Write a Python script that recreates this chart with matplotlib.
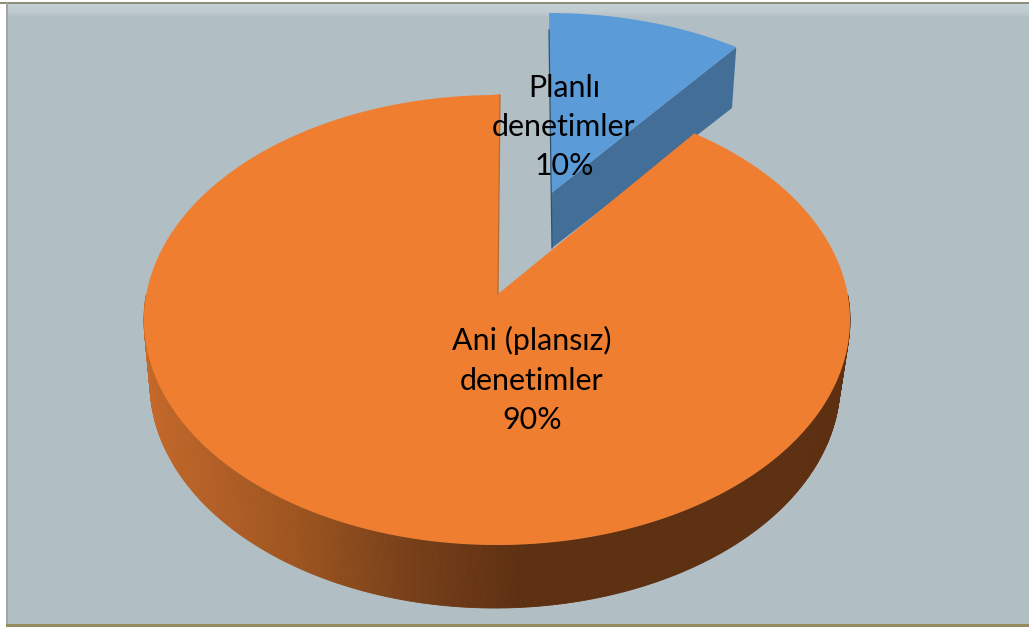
import matplotlib
matplotlib.use("Agg")
import matplotlib.pyplot as plt
from matplotlib.collections import PolyCollection
from matplotlib.colors import LinearSegmentedColormap
import numpy as np

labels = ["Planlı\ndenetimler", "Ani (plansız)\ndenetimler"]
values = [10, 90]

W, H = 1029, 627
plt.rcParams['font.family'] = ['Lato', 'DejaVu Sans']

fig = plt.figure(figsize=(W / 100, H / 100), dpi=100, facecolor='white')
ax = fig.add_axes([0, 0, 1, 1])
ax.set_xlim(0, W)
ax.set_ylim(H, 0)
ax.axis('off')


def rim(theta, cx, cy, rx, ry):
    # theta clockwise from 12 o'clock, squeezed a bit for the perspective
    phi = np.arctan2(0.928 * np.sin(theta), np.cos(theta))
    return cx + rx * np.sin(phi), cy - ry * np.cos(phi)


# background panel with the lighter band at the top
ax.add_patch(plt.Rectangle((8, 3), W - 8, 621, color='#B1BEC3', lw=0, zorder=0))
band = LinearSegmentedColormap.from_list('band', ['#C3D0D4', '#C0CCD1', '#B1BEC3'])
ax.imshow(np.linspace(0, 1, 32).reshape(-1, 1), cmap=band, aspect='auto',
          extent=(8, W, 18, 4), zorder=1)
ax.set_xlim(0, W)
ax.set_ylim(H, 0)
ax.add_patch(plt.Rectangle((0, 2), W, 2, color='#8E8E7C', lw=0, zorder=2))
ax.add_patch(plt.Rectangle((6, 3), 2, 621, color='#A3A6A8', lw=0, zorder=2))
ax.add_patch(plt.Rectangle((6, 624), W - 6, 3, color='#968B5F', lw=0, zorder=2))

split = 2 * np.pi * values[0] / sum(values)

# blue slice, pulled out
bx, by = rim(np.linspace(0, split, 60), 549, 213, 335, 200)
blue_apex = (551.5, 193)
wall = [blue_apex, (bx[-1], by[-1]), (732, 108), (552, 248)]
ax.add_patch(plt.Polygon(wall, color='#426E98', lw=0, zorder=3))
ax.add_patch(plt.Polygon(np.vstack([blue_apex, np.column_stack([bx, by])]),
                         color='#5B9BD8', lw=0, zorder=4))
ax.plot([549, 552], [30, 248], color='#2F5272', lw=0.9, zorder=5)

# orange wall, one thin strip per step with the shade going by x
th = np.radians(np.linspace(84, 276, 400))
ux, uy = rim(th, 497, 320, 353, 225)
lx, ly = rim(th, 495, 383, 345, 225)
shade = LinearSegmentedColormap.from_list(
    'wall', [(0, '#C4682A'), (0.40, '#9E5520'), (0.68, '#7A411A'), (1, '#5E3012')])
strips, colors = [], []
for i in range(len(th) - 1):
    strips.append([(ux[i], uy[i]), (ux[i + 1], uy[i + 1]), (lx[i + 1], ly[i + 1]), (lx[i], ly[i])])
    colors.append(shade(float(np.clip((lx[i] - 150) / (520 - 150), 0, 1))))
ax.add_collection(PolyCollection(strips, facecolors=colors, edgecolors=colors, linewidths=0.6, zorder=5))

# orange top
ox, oy = rim(np.linspace(split, 2 * np.pi, 500), 497, 320, 353, 225)
ox[-1], oy[-1] = 500, 94
orange_apex = (498, 294)
ax.add_patch(plt.Polygon(np.vstack([orange_apex, np.column_stack([ox, oy])]),
                         color='#F07E30', lw=0, zorder=6))
ax.plot([500, 498], [95, 294], color='#B8692F', lw=0.9, zorder=6)

# labels
ax.text(564, 127, f"{labels[0]}\n{values[0]}%", ha='center', va='center',
        fontsize=21.9, color='black', linespacing=1.49, zorder=7)
ax.text(532, 380, f"{labels[1]}\n{values[1]}%", ha='center', va='center',
        fontsize=21.9, color='black', linespacing=1.49, zorder=7)

fig.savefig('out.png', dpi=100)
